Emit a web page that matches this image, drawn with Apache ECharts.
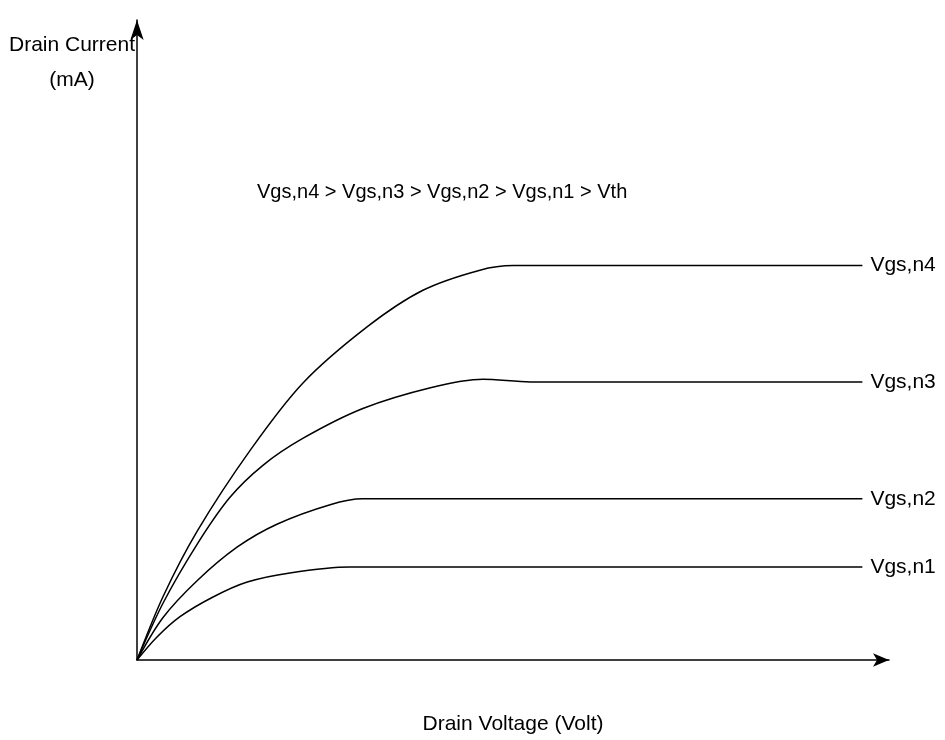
<!DOCTYPE html>
<html>
<head>
<meta charset="utf-8">
<script src="https://cdn.jsdelivr.net/npm/echarts@6/dist/echarts.min.js"></script>
<style>
html,body{margin:0;padding:0;background:#fff;}
#chart{width:945px;height:740px;}
</style>
</head>
<body>
<div id="chart"></div>
<script>
// Drain voltage (V) / drain current (mA) points
const seriesNames = ['Vgs,n4', 'Vgs,n3', 'Vgs,n2', 'Vgs,n1'];
const vgsN4 = [[0,0],[0.34,0.97],[0.79,1.98],[1.49,3.23],[2.18,4.26],[3.03,5.13],[3.76,5.69],[4.51,6.00],[4.95,6.07],[9.54,6.07]];
const vgsN3 = [[0,0],[0.34,0.87],[0.79,1.78],[1.22,2.50],[1.66,3.00],[2.18,3.41],[2.97,3.87],[3.86,4.19],[4.55,4.32],[5.17,4.28],[9.54,4.28]];
const vgsN2 = [[0,0],[0.34,0.65],[0.79,1.22],[1.32,1.74],[1.84,2.09],[2.54,2.39],[2.97,2.48],[9.54,2.48]];
const vgsN1 = [[0,0],[0.26,0.35],[0.57,0.67],[1.00,0.97],[1.45,1.20],[2.01,1.34],[2.80,1.43],[9.54,1.43]];
const allSeries = [vgsN4, vgsN3, vgsN2, vgsN1];
const xTitle = 'Drain Voltage (Volt)';
const yTitle = 'Drain Current\n(mA)';
const note = 'Vgs,n4 > Vgs,n3 > Vgs,n2 > Vgs,n1 > Vth';

const FONT = "'Liberation Sans',Arial,sans-serif";
const chart = echarts.init(document.getElementById('chart'), null, {renderer:'canvas'});
chart.setOption({
  animation:false,
  backgroundColor:'#fff',
  grid:{left:137, right:56, top:20, bottom:73},
  xAxis:{
    type:'value', min:0, max:9.89,
    name:xTitle, nameLocation:'middle', nameGap:54,
    nameTextStyle:{fontFamily:FONT, fontSize:21, color:'#000'},
    axisLine:{show:true, symbol:['none','arrow'], symbolSize:[10,16], lineStyle:{color:'#000', width:1.5}},
    axisTick:{show:false}, axisLabel:{show:false}, splitLine:{show:false}
  },
  yAxis:{
    type:'value', min:0, max:9.85,
    axisLine:{show:true, symbol:['none','arrow'], symbolSize:[10,20], lineStyle:{color:'#000', width:1.5}},
    axisTick:{show:false}, axisLabel:{show:false}, splitLine:{show:false}
  },
  graphic:[
    {type:'text', x:72, y:28, style:{text:yTitle, fontFamily:FONT, fontSize:21, fill:'#000', textAlign:'center', lineHeight:35}},
    {type:'text', x:257, y:182, style:{text:note, fontFamily:FONT, fontSize:20, fill:'#000'}}
  ],
  series: allSeries.map((d,i)=>({
    name:seriesNames[i], type:'line', data:d, smooth:0.3, showSymbol:false,
    lineStyle:{color:'#000', width:1.5},
    endLabel:{show:true, formatter:'{a}', distance:8, fontFamily:FONT, fontSize:21, color:'#000'}
  }))
});
</script>
</body>
</html>
